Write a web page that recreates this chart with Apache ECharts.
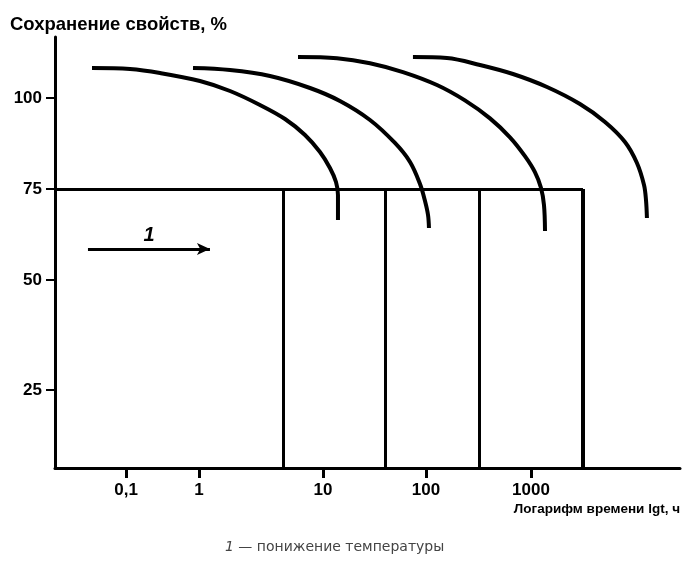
<!DOCTYPE html>
<html>
<head>
<meta charset="utf-8">
<script src="https://cdn.jsdelivr.net/npm/echarts@6/dist/echarts.min.js"></script>
<style>html,body{margin:0;padding:0;background:#fff}#c{width:683px;height:561px}</style>
</head>
<body>
<div id="c"></div>
<script>
// ---- data (x in schematic lg t units, y in %) ----
var xTickPos = [-0.894, -0.192, 1.0, 1.99, 3.0];
var xTickLabels = ['0,1', '1', '10', '100', '1000'];
var yTickPos = [19.8, 50, 75, 100];
var yTickLabels = ['25', '50', '75', '100'];
var xMin = -1.577, xMax = 4.433;
var yMin = -1.65, yMax = 116.76;
var rectTop = 75;
var vertX = [0.615, 1.596, 2.5, 3.5];
var curve1 = [[-1.221,108.24],[-0.856,107.97],[-0.567,106.87],[-0.183,104.67],[0.106,101.92],[0.394,98.08],[0.635,94.23],[0.827,89.84],[0.971,85.16],[1.067,80.77],[1.125,76.92],[1.144,73.35],[1.144,66.48]];
var curve2 = [[-0.25,108.24],[0.106,107.69],[0.49,106.04],[0.875,102.75],[1.163,99.18],[1.452,93.96],[1.692,87.64],[1.837,82.42],[1.933,76.37],[1.981,71.70],[2.010,67.86],[2.019,64.29]];
var curve3 = [[0.76,111.26],[1.135,110.93],[1.452,109.56],[1.769,107.12],[2.096,103.57],[2.365,99.34],[2.606,94.40],[2.798,89.18],[2.942,84.01],[3.038,79.62],[3.096,75.33],[3.125,70.60],[3.135,63.46]];
var curve4 = [[1.865,111.26],[2.192,110.99],[2.51,109.07],[2.827,106.59],[3.154,103.02],[3.471,98.35],[3.712,93.41],[3.904,87.91],[4.019,82.14],[4.087,76.10],[4.106,71.98],[4.115,67.03]];
var arrowFrom = [-1.26, 58.5], arrowTo = [-0.087, 58.5];
var arrowLabel = '1';
var yName = 'Сохранение свойств, %';
var xName = 'Логарифм времени lgt, ч';
var footnote = '— понижение температуры';

var chart = echarts.init(document.getElementById('c'));
function lbl(pos, labels) {
  return function (v) {
    for (var i = 0; i < pos.length; i++) if (Math.abs(pos[i] - v) < 1e-6) return labels[i];
    return '';
  };
}
var curveStyle = {color: '#000', width: 4};
function curveSeries(d) {
  return {type: 'line', data: d, smooth: 0.35, symbol: 'none', lineStyle: curveStyle, silent: true, z: 3};
}
var vertData = vertX.map(function (x, i) {
  return {coords: [[x, rectTop], [x, yMin]], lineStyle: {width: i === vertX.length - 1 ? 4 : 3}};
});
vertData.push({coords: [[xMin, rectTop], [vertX[vertX.length - 1], rectTop]], lineStyle: {width: 3}});

var labelFont = {fontFamily: 'Liberation Sans', fontSize: 17, fontWeight: 'bold', color: '#000'};

chart.setOption({
  animation: false,
  backgroundColor: '#fff',
  title: [
    {text: yName, left: 10, top: 15, padding: 0,
     textStyle: {fontFamily: 'Liberation Sans', fontSize: 18.5, fontWeight: 'bold', color: '#000'}},
    {text: '{i|1} ' + footnote, left: 225, top: 540, padding: 0,
     textStyle: {fontFamily: 'DejaVu Sans', fontSize: 14, fontWeight: 'normal', color: '#444',
       rich: {i: {fontStyle: 'italic', fontFamily: 'DejaVu Sans', fontSize: 14, color: '#444'}}}}
  ],
  grid: {left: 55, right: 3, top: 37, bottom: 93, containLabel: false, outerBoundsMode: 'none'},
  xAxis: {
    type: 'value', min: xMin, max: xMax,
    name: xName, nameLocation: 'end', nameGap: 0,
    nameTextStyle: {align: 'right', verticalAlign: 'top', padding: [34, 0, 0, 0],
      fontFamily: 'Liberation Sans', fontSize: 13.5, fontWeight: 'bold', color: '#000'},
    axisLine: {onZero: false, lineStyle: {color: '#000', width: 3}},
    axisTick: {show: true, customValues: xTickPos, length: 10, lineStyle: {color: '#000', width: 3}},
    axisLabel: Object.assign({customValues: xTickPos, formatter: lbl(xTickPos, xTickLabels), margin: 14}, labelFont),
    splitLine: {show: false}
  },
  yAxis: {
    type: 'value', min: yMin, max: yMax,
    axisLine: {onZero: false, lineStyle: {color: '#000', width: 3}},
    axisTick: {show: true, customValues: yTickPos, length: 9, lineStyle: {color: '#000', width: 2}},
    axisLabel: Object.assign({customValues: yTickPos, formatter: lbl(yTickPos, yTickLabels), margin: 13}, labelFont),
    splitLine: {show: false}
  },
  series: [
    {type: 'lines', coordinateSystem: 'cartesian2d', polyline: false, silent: true,
     lineStyle: {color: '#000', width: 3, opacity: 1}, data: vertData, z: 2},
    curveSeries(curve1), curveSeries(curve2), curveSeries(curve3), curveSeries(curve4),
    {type: 'line', data: [], silent: true,
     markLine: {silent: true, symbol: ['none', 'arrow'], symbolSize: [9, 13], animation: false,
       lineStyle: {color: '#000', width: 3, type: 'solid'},
       label: {show: true, position: 'middle', formatter: arrowLabel, distance: 4,
         fontFamily: 'Liberation Sans', fontSize: 20, fontStyle: 'italic', fontWeight: 'bold', color: '#000'},
       data: [[{coord: arrowFrom}, {coord: arrowTo}]]}}
  ]
});
</script>
</body>
</html>
